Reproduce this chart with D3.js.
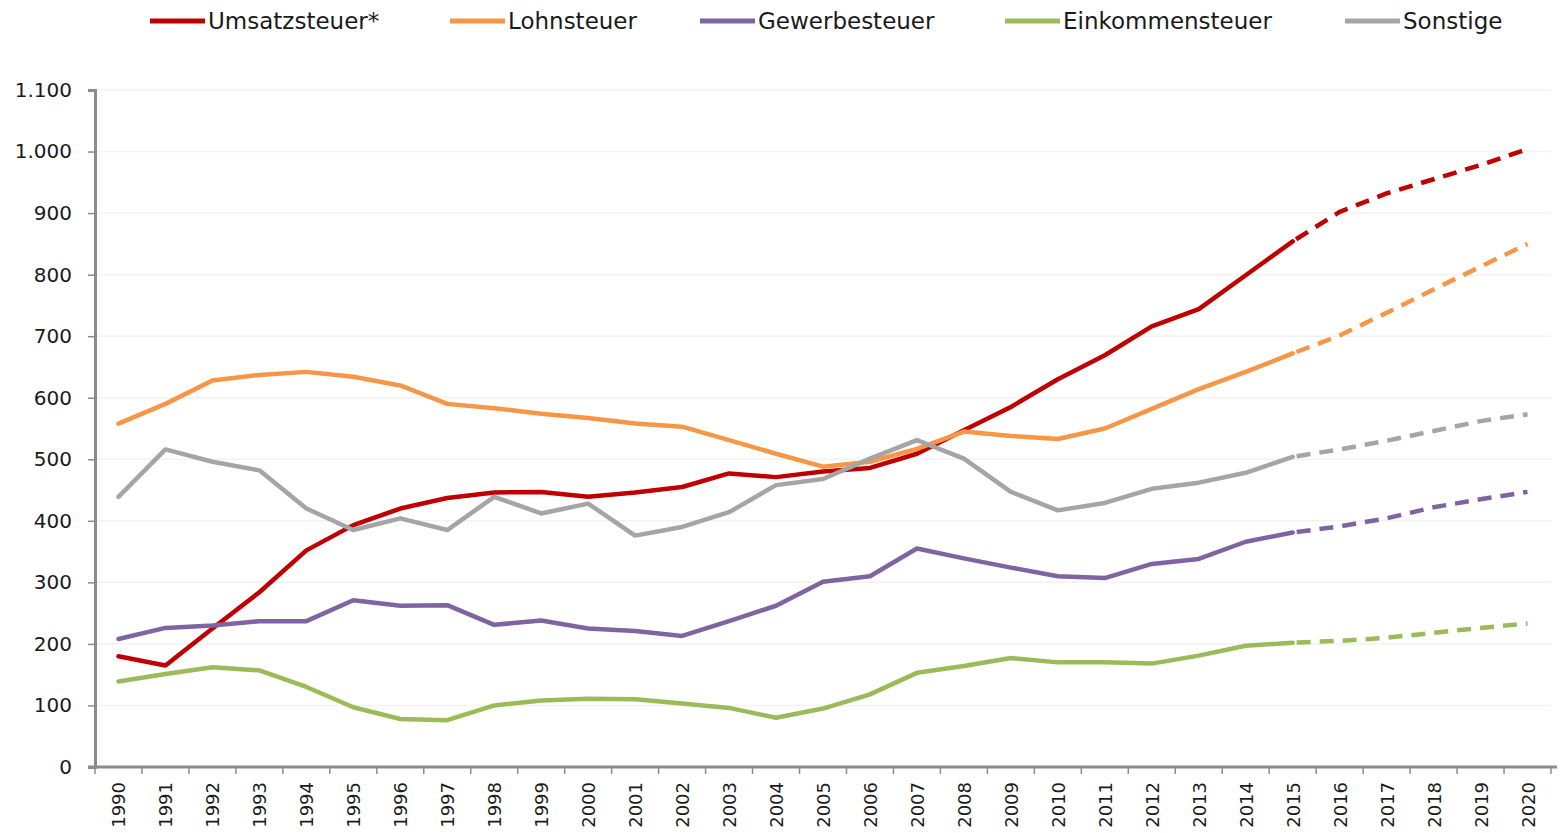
<!DOCTYPE html>
<html>
<head>
<meta charset="utf-8">
<script src="https://cdn.jsdelivr.net/npm/d3@7"></script>
<style>
  body { margin: 0; background: #fff; }
  text { font-family: "DejaVu Sans", Verdana, sans-serif; }
</style>
</head>
<body>
<div id="chart"></div>
<script>
var years = d3.range(1990, 2021);
var lastActual = 2015;

var umsatzsteuer = [180, 165, 225, 284, 352, 393, 420, 437, 446, 447, 439, 446, 455, 477, 471, 480, 486, 509, 547, 585, 630, 669, 716, 744, 799, 854, 902, 932, 955, 978, 1004];
var lohnsteuer = [558, 590, 628, 637, 642, 634, 620, 590, 583, 574, 567, 558, 553, 531, 509, 488, 496, 517, 545, 538, 533, 550, 582, 614, 642, 672, 701, 738, 776, 813, 850];
var gewerbesteuer = [208, 226, 230, 237, 237, 271, 262, 263, 231, 238, 225, 221, 213, 237, 262, 301, 310, 355, 339, 324, 310, 307, 330, 338, 366, 381, 391, 404, 422, 435, 447];
var einkommensteuer = [139, 151, 162, 157, 130, 97, 78, 76, 100, 108, 111, 110, 103, 96, 80, 95, 118, 153, 164, 177, 170, 170, 168, 181, 197, 202, 205, 210, 218, 226, 233];
var sonstige = [439, 516, 496, 482, 420, 385, 404, 385, 439, 412, 428, 376, 390, 414, 458, 468, 501, 531, 501, 447, 417, 429, 452, 462, 478, 504, 516, 530, 546, 562, 573];

var seriesNames = ["Umsatzsteuer*", "Lohnsteuer", "Gewerbesteuer", "Einkommensteuer", "Sonstige"];
var seriesColors = ["#C00000", "#F79646", "#8064A2", "#9BBB59", "#A5A5A5"];
var yTicks = [0, 100, 200, 300, 400, 500, 600, 700, 800, 900, 1000, 1100];

var series = [umsatzsteuer, lohnsteuer, gewerbesteuer, einkommensteuer, sonstige].map(function(vals, i){
  return {
    name: seriesNames[i],
    color: seriesColors[i],
    values: vals.map(function(v, j){ return {year: years[j], value: v}; })
  };
});

var width = 1560, height = 833;
var plot = {left: 95, right: 1551, top: 90, bottom: 767};

var svg = d3.select("#chart").append("svg")
    .attr("width", width)
    .attr("height", height);

var x = d3.scalePoint()
    .domain(years)
    .range([plot.left, plot.right])
    .padding(0.5);
var step = x.step();

var y = d3.scaleLinear()
    .domain([0, 1100])
    .range([plot.bottom, plot.top]);

// gridlines
svg.append("g").selectAll("line")
  .data(yTicks.filter(function(d){ return d > 0; }))
  .enter().append("line")
    .attr("x1", plot.left).attr("x2", plot.right)
    .attr("y1", function(d){ return y(d); })
    .attr("y2", function(d){ return y(d); })
    .attr("stroke", "#f2f2f2")
    .attr("stroke-width", 1.5);

// y axis
var yAxis = svg.append("g")
    .attr("transform", "translate(" + plot.left + ",0)")
    .call(d3.axisLeft(y)
      .tickValues(yTicks)
      .tickSize(7)
      .tickPadding(16)
      .tickFormat(function(d){ return d3.format(",")(d).replace(",", "."); }));
yAxis.select(".domain").attr("stroke", "#8c8c8c").attr("stroke-width", 3);
yAxis.selectAll(".tick line").attr("stroke", "#8c8c8c").attr("stroke-width", 1.5);
yAxis.selectAll(".tick text")
    .attr("font-size", 20)
    .attr("fill", "#1a1a1a")
    .style("font-family", "'DejaVu Sans', Verdana, sans-serif");

// x axis
var xg = svg.append("g");
xg.append("line")
    .attr("x1", plot.left - 7).attr("x2", plot.right + 6)
    .attr("y1", plot.bottom).attr("y2", plot.bottom)
    .attr("stroke", "#8c8c8c").attr("stroke-width", 3);
xg.selectAll(".xtick")
  .data(years.concat([2021]))
  .enter().append("line")
    .attr("class", "xtick")
    .attr("x1", function(d){ return plot.left + (d - 1990) * step; })
    .attr("x2", function(d){ return plot.left + (d - 1990) * step; })
    .attr("y1", plot.bottom).attr("y2", plot.bottom + 7)
    .attr("stroke", "#8c8c8c").attr("stroke-width", 1.5);
xg.selectAll(".xlabel")
  .data(years)
  .enter().append("text")
    .attr("class", "xlabel")
    .attr("transform", function(d){ return "translate(" + (x(d) + 7) + "," + 782 + ") rotate(-90)"; })
    .attr("text-anchor", "end")
    .attr("font-size", 18)
    .attr("fill", "#1a1a1a")
    .text(function(d){ return d; });

var line = d3.line()
    .x(function(d){ return x(d.year); })
    .y(function(d){ return y(d.value); });

var lines = svg.append("g").selectAll("g")
  .data(series)
  .enter().append("g");

lines.append("path")
    .attr("d", function(d){ return line(d.values.filter(function(p){ return p.year <= lastActual; })); })
    .attr("fill", "none")
    .attr("stroke", function(d){ return d.color; })
    .attr("stroke-width", 4.5)
    .attr("stroke-linejoin", "round")
    .attr("stroke-linecap", "round");

lines.append("path")
    .attr("d", function(d){ return line(d.values.filter(function(p){ return p.year >= lastActual; })); })
    .attr("fill", "none")
    .attr("stroke", function(d){ return d.color; })
    .attr("stroke-width", 4.5)
    .attr("stroke-dasharray", "14,9")
    .attr("stroke-dashoffset", -4)
    .attr("stroke-linejoin", "round");

// legend
var legendX = [150, 450, 700, 1005, 1345];
var legend = svg.append("g").selectAll("g")
  .data(series)
  .enter().append("g")
    .attr("transform", function(d, i){ return "translate(" + legendX[i] + ",21)"; });
legend.append("line")
    .attr("x1", 0).attr("x2", 55)
    .attr("stroke", function(d){ return d.color; })
    .attr("stroke-width", 5);
legend.append("text")
    .attr("x", 58)
    .attr("dy", "0.35em")
    .attr("font-size", 23)
    .attr("fill", "#1a1a1a")
    .text(function(d){ return d.name; });
</script>
</body>
</html>
